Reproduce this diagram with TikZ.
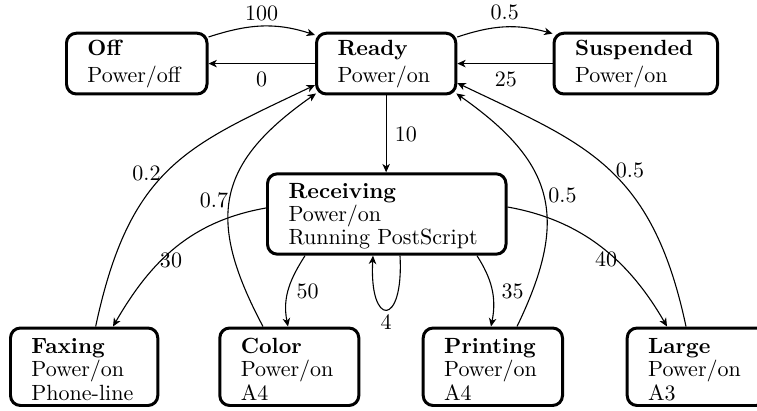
\documentclass[tikz,border=0pt]{standalone}
\usetikzlibrary{arrows.meta,calc}
\tikzset{
  state/.style={draw, line width=1.36pt, rounded corners=4.5pt, inner xsep=9.545pt, inner ysep=0pt, align=left},
  two/.style={state, font=\fontsize{10}{12.27}\selectfont, text height=10.36pt, text depth=17.27pt},
  three/.style={state, font=\fontsize{10}{10.8}\selectfont, text height=11.36pt, text depth=23.86pt},
  conn/.style={line width=0.5pt, -{Stealth[length=3.8pt,width=3.4pt,inset=1.1pt]}},
  lbl/.style={inner sep=0pt},
}
\begin{document}
\begin{tikzpicture}[x=0.4545pt, y=-0.4545pt]
\useasboundingbox (0,0) rectangle (757,411);
\clip (0,0) rectangle (757,411);
% states
\node[two, text width=44.77pt] (off) at (136.75,63.6) {\textbf{Off}\\Power/off};
\node[two, text width=44.22pt] (ready) at (386.15,63.6) {\textbf{Ready}\\Power/on};
\node[two, text width=55.22pt] (susp) at (635.75,63.6) {\textbf{Suspended}\\Power/on};
\node[state, font=\fontsize{10}{10.6}\selectfont, text height=11pt, text depth=25.54pt, text width=89.31pt] (recv) at (386.75,214) {\textbf{Receiving}\\Power/on\\\mbox{Running PostScript}};
\node[three, text width=47.86pt] (fax) at (84.15,366.75) {\textbf{Faxing}\\Power/on\\Phone-line};
\node[three, text width=44.09pt] (color) at (289.3,366.75) {\textbf{Color}\\Power/on\\A4};
\node[three, text width=44.22pt] (print) at (492.85,366.75) {\textbf{Printing}\\Power/on\\A4};
\node[three, text width=44.09pt] (large) at (696.7,366.75) {\textbf{Large}\\Power/on\\A3};
% connectors
\draw[conn] ($(off.east)+(0,-26.6)$) .. controls +(40,-13) and +(-40,-13) .. ($(ready.west)+(0,-28.6)$);
\draw[conn] (ready.west) -- (off.east);
\draw[conn] ($(ready.east)+(0,-26.6)$) .. controls +(36,-12) and +(-36,-10) .. ($(susp.west)+(0,-30)$);
\draw[conn] (susp.west) -- (ready.east);
\draw[conn] (ready.south) -- (ready.south |- recv.north);
\draw[conn] ($(fax.north)+(11.5,0)$) .. controls +(34.3,-161.4) and +(-126.3,60.5) .. ($(ready.west)+(0,21.4)$);
\draw[conn] ($(color.north)+(-26.3,0)$) .. controls +(-57.3,-107.7) and +(-99.9,70) .. ($(ready.south west)+(1,-2)$);
\draw[conn] ($(recv.west)+(0,-6)$) .. controls +(-74.8,13.2) and +(38,-65.8) .. ($(fax.north)+(28.85,0)$);
\draw[conn] ($(recv.south)+(-81.75,0)$) .. controls +(-14,22) and +(-6,-30) .. ($(color.north)+(-1.3,0)$);
\draw[conn] ($(recv.south)+(13.25,0)$) .. controls +(4,72) and +(-4,72) .. ($(recv.south)+(-13.75,0)$);
\draw[conn] ($(recv.south)+(90.25,0)$) .. controls +(14,22) and +(6,-30) .. ($(print.north)+(-1.85,0)$);
\draw[conn] ($(print.north)+(24.15,0)$) .. controls +(52,-107.7) and +(99.9,70) .. ($(ready.south east)+(-1,-2)$);
\draw[conn] ($(recv.east)+(0,-7)$) .. controls +(74.8,13.2) and +(-38,-65.8) .. ($(large.north)+(-29.7,0)$);
\draw[conn] ($(large.north)+(-10.7,0)$) .. controls +(-34.3,-161.4) and +(126.3,60.5) .. ($(ready.east)+(0,19.4)$);
% labels
\node[lbl] (l100) at (261.7,13) {100};
\node[lbl] (l0) at (261.7,79.3) {0};
\node[lbl] (l05a) at (504.7,12.5) {0.5};
\node[lbl] (l25) at (505.8,79.3) {25};
\node[lbl] (l10) at (405.8,134.5) {10};
\node[lbl] (l02) at (146.5,173.5) {0.2};
\node[lbl] (l07) at (214,200) {0.7};
\node[lbl] (l30) at (171,260.8) {30};
\node[lbl] (l50) at (307.5,291.7) {50};
\node[lbl] (l4) at (386,322.5) {4};
\node[lbl] (l35) at (512.5,291.7) {35};
\node[lbl] (l05b) at (562.5,195.8) {0.5};
\node[lbl] (l05c) at (630,170.8) {0.5};
\node[lbl] (l40) at (606,259.2) {40};
\end{tikzpicture}
\end{document}
